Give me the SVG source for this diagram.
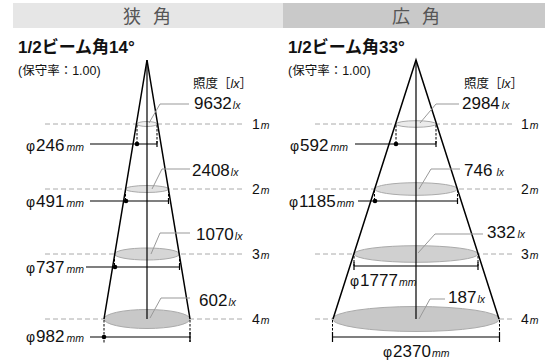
<svg xmlns="http://www.w3.org/2000/svg" width="545" height="363" viewBox="0 0 545 363">
<defs>
<style>
.t{font-family:"Liberation Sans","Noto Sans CJK JP",sans-serif;fill:#111}
.hd{font-family:"Noto Sans CJK JP",sans-serif;font-size:18px;fill:#555;text-anchor:middle;letter-spacing:4px}
.ttl{font-size:17px;font-weight:bold}
.sm{font-size:12.5px}
.n{font-size:17px}
.ph{font-size:14px}
.u{font-size:10.5px;font-style:italic}
.lv{font-size:14px}
.lvl{stroke:#aaa;stroke-width:1;stroke-dasharray:5 3;fill:none}
.cone{stroke:#000;stroke-width:1.5;fill:none}
.ax{stroke:#000;stroke-width:1.2;fill:none}
.dsh{stroke:#000;stroke-width:1;stroke-dasharray:2.5 1.5;fill:none}
.dim{stroke:#000;stroke-width:1.2;fill:none}
.ldr{stroke:#999;stroke-width:1;fill:none}
.el{stroke:#aaa;stroke-width:1}
</style>
</defs>
<rect x="13" y="3" width="270" height="25" fill="#e6e6e6"/>
<rect x="283" y="3" width="262" height="25" fill="#c9c9c9"/>
<text class="hd" x="149" y="23">狭 角</text>
<text class="hd" x="418" y="23">広 角</text>

<text class="t ttl" x="18" y="53">1/2ビーム角14°</text>
<text class="t sm" x="18" y="75">(保守率：1.00)</text>
<text class="t ttl" x="288" y="53">1/2ビーム角33°</text>
<text class="t sm" x="288" y="75">(保守率：1.00)</text>
<text class="t sm" x="193" y="88">照度［<tspan font-style="italic">lx</tspan>］</text>
<text class="t sm" x="464" y="88">照度［<tspan font-style="italic">lx</tspan>］</text>

<g id="levels">
<line class="lvl" x1="45" y1="124" x2="245" y2="124"/>
<line class="lvl" x1="45" y1="189" x2="245" y2="189"/>
<line class="lvl" x1="45" y1="254" x2="245" y2="254"/>
<line class="lvl" x1="45" y1="319" x2="245" y2="319"/>
<line class="lvl" x1="315" y1="124" x2="514" y2="124"/>
<line class="lvl" x1="315" y1="189" x2="514" y2="189"/>
<line class="lvl" x1="315" y1="254" x2="514" y2="254"/>
<line class="lvl" x1="315" y1="319" x2="514" y2="319"/>
<text class="t lv" x="252" y="129">1<tspan class="u" dx="1">m</tspan></text>
<text class="t lv" x="252" y="194">2<tspan class="u" dx="1">m</tspan></text>
<text class="t lv" x="252" y="259">3<tspan class="u" dx="1">m</tspan></text>
<text class="t lv" x="252" y="324">4<tspan class="u" dx="1">m</tspan></text>
<text class="t lv" x="521" y="129">1<tspan class="u" dx="1">m</tspan></text>
<text class="t lv" x="521" y="194">2<tspan class="u" dx="1">m</tspan></text>
<text class="t lv" x="521" y="259">3<tspan class="u" dx="1">m</tspan></text>
<text class="t lv" x="521" y="324">4<tspan class="u" dx="1">m</tspan></text>
</g>

<g id="narrow">
<ellipse class="el" cx="147" cy="124" rx="10" ry="2.5" fill="#f0f0f0"/>
<ellipse class="el" cx="147" cy="189" rx="21.5" ry="3.5" fill="#e2e2e2"/>
<ellipse class="el" cx="147" cy="254" rx="32.5" ry="6" fill="#d6d6d6"/>
<ellipse class="el" cx="147" cy="319" rx="43" ry="9.5" fill="#c8c8c8"/>
<polyline class="cone" points="104,319 147,60 190,319"/>
<line class="ax" x1="147" y1="60" x2="147" y2="319"/>
</g>

<g id="wide">
<ellipse class="el" cx="416" cy="124" rx="20" ry="3.3" fill="#ebebeb"/>
<ellipse class="el" cx="416" cy="189" rx="41.5" ry="6.3" fill="#dadada"/>
<ellipse class="el" cx="416" cy="254" rx="62" ry="8.3" fill="#d0d0d0"/>
<ellipse class="el" cx="416" cy="319" rx="83.5" ry="12.5" fill="#c8c8c8"/>
<polyline class="cone" points="333,319 416,60 499,319"/>
<line class="ax" x1="416" y1="60" x2="416" y2="319"/>
</g>

<g id="connectors">
<path class="dsh" d="M137,125V144M157,125V144M125.5,190V201M168.5,190V201M114.5,255V267M179.5,255V267M104,320V344M190,320V342"/>
<path class="dim" d="M90,144H157M157,141V147M90,201H168.5M168.5,198V204M86,267H179.5M179.5,264V270M90,337H190M190,332V342"/>
<circle cx="137" cy="144" r="2.3"/>
<circle cx="126" cy="201" r="2.3"/>
<circle cx="115" cy="267" r="2.3"/>
<circle cx="104" cy="337" r="2.3"/>
<path class="dsh" d="M396,125V144M436,125V144M374.5,190V201M457.5,190V201M354,256V266M478,256V266M332.5,320V342M499.5,320V342"/>
<path class="dim" d="M355,144H436M436,141V147M358,201H457.5M457.5,198V204M354,266H478M354,262V270M478,262V270M332.5,337H499.5M332.5,332V342M499.5,332V342"/>
<circle cx="396" cy="144" r="2.3"/>
<circle cx="375" cy="201" r="2.3"/>
<polyline class="ldr" points="189,104 160,104 149,123"/>
<polyline class="ldr" points="190,169 162,169 152,189"/>
<polyline class="ldr" points="190,233 160,233 151,254"/>
<polyline class="ldr" points="190,298 161,298 150,318"/>
<polyline class="ldr" points="459,104 436,104 420,123"/>
<polyline class="ldr" points="460,169 431,169 419,189"/>
<polyline class="ldr" points="483,234 435,234 418,253"/>
<polyline class="ldr" points="445,299 430,299 419,319"/>
</g>

<g id="labels">
<text class="t" x="194" y="109"><tspan class="n">9632</tspan><tspan class="u" dx="1">lx</tspan></text>
<text class="t" x="192" y="176"><tspan class="n">2408</tspan><tspan class="u" dx="1">lx</tspan></text>
<text class="t" x="196" y="240"><tspan class="n">1070</tspan><tspan class="u" dx="1">lx</tspan></text>
<text class="t" x="199" y="306"><tspan class="n">602</tspan><tspan class="u" dx="1">lx</tspan></text>
<text class="t" x="462" y="109"><tspan class="n">2984</tspan><tspan class="u" dx="2">lx</tspan></text>
<text class="t" x="464" y="176"><tspan class="n">746</tspan><tspan class="u" dx="4">lx</tspan></text>
<text class="t" x="487" y="238"><tspan class="n">332</tspan><tspan class="u" dx="2">lx</tspan></text>
<text class="t" x="448" y="303"><tspan class="n">187</tspan><tspan class="u" dx="1">lx</tspan></text>

<text class="t" x="26" y="151"><tspan class="ph">φ</tspan><tspan class="n" dx="1">246</tspan><tspan class="u" dx="2">mm</tspan></text>
<text class="t" x="26" y="207"><tspan class="ph">φ</tspan><tspan class="n" dx="1">491</tspan><tspan class="u" dx="2">mm</tspan></text>
<text class="t" x="26" y="273"><tspan class="ph">φ</tspan><tspan class="n" dx="1">737</tspan><tspan class="u" dx="2">mm</tspan></text>
<text class="t" x="26" y="342"><tspan class="ph">φ</tspan><tspan class="n" dx="1">982</tspan><tspan class="u" dx="2">mm</tspan></text>
<text class="t" x="290" y="151"><tspan class="ph">φ</tspan><tspan class="n" dx="1">592</tspan><tspan class="u" dx="2">mm</tspan></text>
<text class="t" x="289" y="207"><tspan class="ph">φ</tspan><tspan class="n" dx="1">1185</tspan><tspan class="u" dx="1">mm</tspan></text>
<text class="t" x="350" y="286"><tspan class="ph">φ</tspan><tspan class="n" dx="1">1777</tspan><tspan class="u" dx="1">mm</tspan></text>
<text class="t" x="383" y="357"><tspan class="ph">φ</tspan><tspan class="n" dx="1">2370</tspan><tspan class="u" dx="1">mm</tspan></text>
</g>
</svg>
